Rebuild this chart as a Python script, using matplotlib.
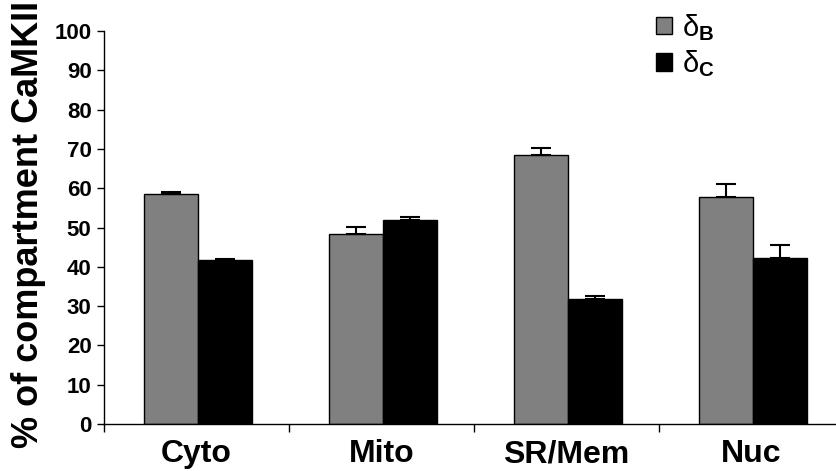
import matplotlib
matplotlib.use('Agg')
import matplotlib.pyplot as plt
import numpy as np

plt.rcParams['font.family'] = ['Liberation Sans', 'DejaVu Sans']
plt.rcParams['font.weight'] = 'bold'
plt.rcParams['mathtext.fontset'] = 'custom'
plt.rcParams['mathtext.rm'] = 'Liberation Sans:normal'
plt.rcParams['mathtext.bf'] = 'Liberation Sans:bold'

compartments = ['Cyto', 'Mito', 'SR/Mem', 'Nuc']
delta_b = [58.5, 48.4, 68.5, 57.8]
delta_b_err = [0.5, 1.7, 1.7, 3.3]
delta_c = [41.8, 51.8, 31.7, 42.3]
delta_c_err = [0.1, 0.9, 0.9, 3.2]

fig = plt.figure(figsize=(8.36, 4.71), dpi=100)
ax = fig.add_axes([104 / 836, 47 / 471, 740 / 836, 393 / 471])

x = np.arange(len(compartments))
w = 0.292
err_kw = dict(ecolor='black', elinewidth=1.5, capsize=7.5, capthick=1.5)
ax.bar(x - w / 2 + 0.01, delta_b, w, color='#808080', edgecolor='black', linewidth=1,
       yerr=[np.zeros(4), delta_b_err], error_kw=err_kw, label=r'$\mathrm{\delta}_{\mathbf{B}}$')
ax.bar(x + w / 2 + 0.01, delta_c, w, color='black', edgecolor='black', linewidth=1,
       yerr=[np.zeros(4), delta_c_err], error_kw=err_kw, label=r'$\mathrm{\delta}_{\mathbf{C}}$')

ax.set_xlim(-0.5, 3.5)
ax.set_ylim(0, 100)
ax.set_yticks(range(0, 101, 10))
ax.set_xticks(x)
ax.set_xticklabels(compartments, fontsize=23, fontweight='bold')
ax.set_xticks(np.arange(-0.5, 4, 1), minor=True)
ax.tick_params(axis='x', which='major', length=0, pad=11)
ax.tick_params(axis='x', which='minor', length=6, direction='out', width=1)
ax.tick_params(axis='y', length=5, direction='out', width=1, labelsize=16, pad=4)
for lbl in ax.get_yticklabels():
    lbl.set_fontweight('bold')

for side in ['top', 'right']:
    ax.spines[side].set_visible(False)
ax.spines['left'].set_linewidth(1)
ax.spines['bottom'].set_linewidth(1)

fig.text(29 / 836, 1 - 224 / 471, '% of compartment CaMKII', rotation=90,
         ha='center', va='center', fontsize=26, fontweight='bold')

ax.legend(loc='upper left', bbox_to_anchor=(638 / 836, 1.012), bbox_transform=fig.transFigure,
          frameon=False, fontsize=21, handlelength=0.55, handleheight=0.55,
          handletextpad=0.35, labelspacing=0.2, borderaxespad=0.2)

fig.savefig('out.png', dpi=100)
